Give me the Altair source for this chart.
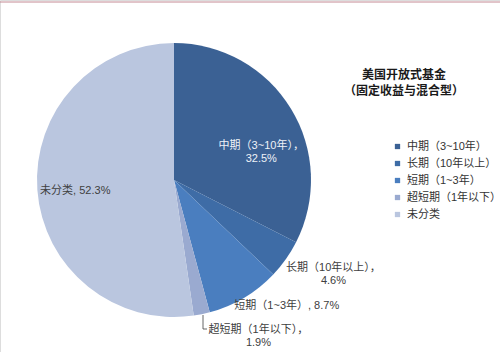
import altair as alt
import pandas as pd

categories = ["中期（3~10年）", "长期（10年以上）", "短期（1~3年）", "超短期（1年以下）", "未分类"]
values = [32.5, 4.6, 8.7, 1.9, 52.3]
colors = ["#3B6194", "#3E6CA6", "#4A7EBF", "#9AAAD0", "#BAC6DF"]
label_texts = ["中期（3~10年），\n32.5%", "长期（10年以上），\n4.6%", "短期（1~3年）, 8.7%",
               "超短期（1年以下），\n1.9%", "未分类, 52.3%"]
title_lines = ["美国开放式基金", "（固定收益与混合型）"]

df = pd.DataFrame({"cat": categories, "value": values, "order": list(range(len(categories))),
                   "label": label_texts})

FONT = "Liberation Sans, Noto Sans CJK SC, sans-serif"
CX, CY, R = 174, 180, 137

base = alt.Chart(df)

color = alt.Color("cat:N", scale=alt.Scale(domain=categories, range=colors),
                  legend=alt.Legend(title=None, orient="none", legendX=392, legendY=141,
                                    symbolType="square", symbolSize=28, symbolStrokeWidth=0,
                                    labelFont=FONT, labelFontSize=11, labelColor="#333333",
                                    rowPadding=5, labelOffset=4, labelLimit=200))

pie = base.mark_arc(radius=R).encode(
    theta=alt.Theta("value:Q", stack=True, scale=alt.Scale(domain=[0, 100])),
    order=alt.Order("order:Q"),
    color=color,
    x=alt.value(CX), y=alt.value(CY),
)

cum = base.transform_window(cum="sum(value)", sort=[alt.SortField("order")]).transform_calculate(
    mid="datum.cum - datum.value / 2")

# per-label: (radius, dx, dy, color)
label_style = [(100, 2, 18, "#EEF2F8"), (150, 37, 1, "#404040"), (150, 36, -3, "#404040"),
               (150, 54, 3, "#404040"), (100, 1, 4, "#404040")]

layers = [pie]
for i, (rad, dx, dy, col) in enumerate(label_style):
    t = cum.transform_filter(alt.datum.order == i).mark_text(
        radius=rad, dx=dx, dy=dy, font=FONT, fontSize=11, color=col, lineBreak="\n",
        align="center", baseline="middle", lineHeight=13.5
    ).encode(
        theta=alt.Theta("mid:Q", stack=None, scale=alt.Scale(domain=[0, 100])),
        text="label:N",
        x=alt.value(CX), y=alt.value(CY),
    )
    layers.append(t)

# leader line for the smallest slice
leader1 = alt.Chart(pd.DataFrame({"a": [0]})).mark_rule(color="#404040", strokeWidth=0.8).encode(
    x=alt.value(203), y=alt.value(315), y2=alt.value(329))
leader2 = alt.Chart(pd.DataFrame({"a": [0]})).mark_rule(color="#404040", strokeWidth=0.8).encode(
    x=alt.value(203), x2=alt.value(207), y=alt.value(329))
topline = alt.Chart(pd.DataFrame({"a": [0]})).mark_rule(color="#C48A94", strokeWidth=1).encode(
    x=alt.value(0), x2=alt.value(500), y=alt.value(2))

title = alt.Chart(pd.DataFrame({"t": ["\n".join(title_lines)]})).mark_text(
    font=FONT, fontSize=12, fontWeight="bold", color="#1a1a1a", lineBreak="\n",
    align="center", baseline="middle", lineHeight=16
).encode(text="t:N", x=alt.value(404), y=alt.value(75))

chart = alt.layer(*layers, leader1, leader2, topline, title).properties(
    width=500, height=352, padding=0, autosize=alt.AutoSizeParams(type="none")
).configure_view(stroke=None).configure(background="white")

chart.save("out.html", embed_options={"renderer": "svg", "actions": False})
